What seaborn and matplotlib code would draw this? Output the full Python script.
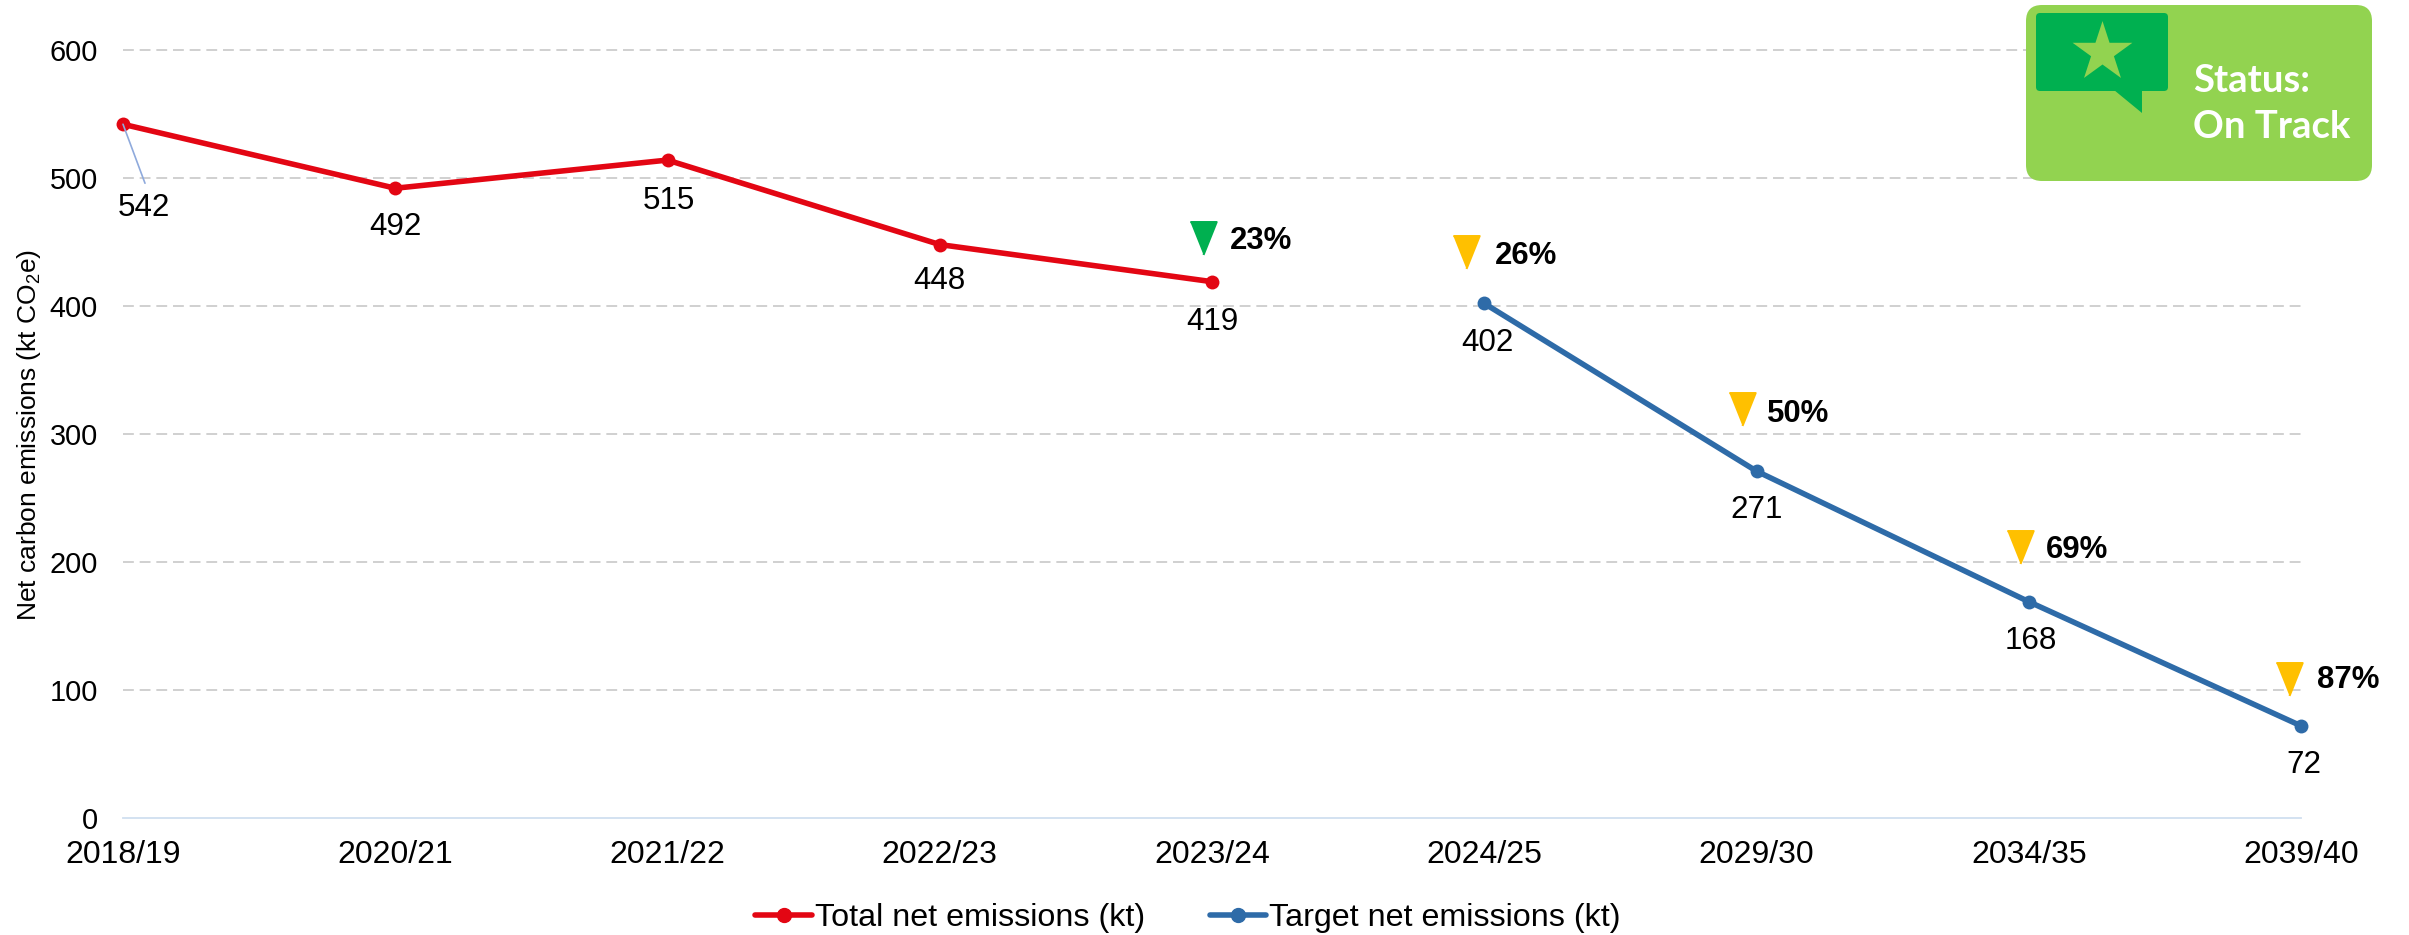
import matplotlib
matplotlib.use('Agg')
import matplotlib.pyplot as plt
import matplotlib.transforms as mtransforms
from matplotlib.lines import Line2D
from matplotlib.markers import MarkerStyle
from matplotlib.patches import FancyBboxPatch, Polygon
import seaborn as sns
import pandas as pd

categories = ["2018/19", "2020/21", "2021/22", "2022/23", "2023/24",
              "2024/25", "2029/30", "2034/35", "2039/40"]
total_years = categories[:5]
total_values = [542, 492, 514, 448, 419]
total_labels = ["542", "492", "515", "448", "419"]
target_years = categories[5:]
target_values = [402, 271, 169, 72]
target_labels = ["402", "271", "168", "72"]
pct_years = ["2023/24", "2024/25", "2029/30", "2034/35", "2039/40"]
pct_labels = ["23%", "26%", "50%", "69%", "87%"]
y_ticks = [0, 100, 200, 300, 400, 500, 600]

RED = "#E30613"
BLUE = "#2E6BA8"
GREEN = "#00B050"
AMBER = "#FFC000"
BADGE = "#92D350"

sns.set_theme(style="white")
plt.rcParams['font.family'] = ['Liberation Sans', 'DejaVu Sans']
plt.rcParams['mathtext.default'] = 'regular'

W, H = 2409, 935
fig = plt.figure(figsize=(W / 100, H / 100), dpi=100)
ax = fig.add_axes([123 / W, (H - 818) / H, 2178 / W, 768 / H])

df = pd.DataFrame({
    "year": total_years + target_years,
    "value": total_values + target_values,
    "series": ["Total net emissions (kt)"] * 5 + ["Target net emissions (kt)"] * 4,
})
sns.lineplot(data=df, x="year", y="value", hue="series", sort=False,
             palette=[RED, BLUE], marker="o", markersize=10, linewidth=4,
             markeredgewidth=0, clip_on=False, legend=False, zorder=3, ax=ax)

ax.set_xlim(0, 8)
ax.set_ylim(0, 600)
ax.set_yticks(y_ticks)
ax.set_xticks(range(len(categories)))
ax.set_xticklabels(categories)
ax.tick_params(axis="y", length=0, labelsize=20.8, labelcolor="black", pad=18)
ax.tick_params(axis="x", length=0, labelsize=23, labelcolor="black", pad=16)
ax.set_xlabel("")
ax.set_ylabel("Net carbon emissions (kt CO$_2$e)", fontsize=19, color="black")
ax.yaxis.set_label_coords((43 - 123) / 2178, (818 - 435) / 768)
ax.grid(False)
for v in y_ticks[1:]:
    ax.axhline(v, color="#C8C8C8", lw=1.2, dashes=(6.5, 3.5), zorder=1, clip_on=False)
for side in ["top", "right", "left"]:
    ax.spines[side].set_visible(False)
ax.spines["bottom"].set_color("#D0DFF0")
ax.spines["bottom"].set_linewidth(1.3)


def px_offset(dx, dy):
    return mtransforms.offset_copy(ax.transData, fig=fig, x=dx, y=-dy, units="dots")


# value labels, pixel offsets from their points
value_lookup = dict(zip(total_years + target_years, total_values + target_values))
label_offsets = [(21, 84), (0, 39), (1, 41), (0, 36), (0, 40),
                 (3, 40), (0, 39), (2, 39), (3, 39)]
for year, text, (dx, dy) in zip(categories, total_labels + target_labels, label_offsets):
    ax.text(categories.index(year), value_lookup[year], text, fontsize=22.6,
            color="black", ha="center", va="center", transform=px_offset(dx, dy),
            zorder=5)

# leader line for the first label
ax.annotate("", xy=(0, total_values[0]), xytext=(22, -59), textcoords="offset pixels",
            arrowprops=dict(arrowstyle="-", color="#8FAADC", lw=1.2, shrinkA=0, shrinkB=0),
            zorder=4)

# reduction markers and labels
tri_colors = [GREEN, AMBER, AMBER, AMBER, AMBER]
tri_offsets = [(-9, -44), (-18, -51), (-15, -62), (-9, -55), (-12, -47)]
pct_offsets = [(18, -41), (11, -47), (10, -57), (17, -52), (16, -46)]
tri_marker = MarkerStyle([(-0.40, 0.5), (0.40, 0.5), (0, -0.5)], joinstyle="round")
for year, text, col, (tx, ty), (lx, ly) in zip(pct_years, pct_labels, tri_colors,
                                               tri_offsets, pct_offsets):
    xi = categories.index(year)
    val = value_lookup[year]
    ax.scatter([xi], [val], marker=tri_marker, s=560, color=col, edgecolor=col, linewidth=1.5,
               clip_on=False, zorder=5, transform=px_offset(tx, ty))
    ax.text(xi, val, text, fontsize=22.4, fontweight="bold", color="black", ha="left",
            va="center", transform=px_offset(lx, ly), zorder=5)

handles = [
    Line2D([], [], color=RED, lw=4, marker="o", markersize=10),
    Line2D([], [], color=BLUE, lw=4, marker="o", markersize=10),
]
fig.legend(handles, df["series"].unique(), loc="center", bbox_to_anchor=(1188 / W, (H - 918) / H),
           ncol=2, frameon=False, fontsize=23.2, handlelength=1.75, handletextpad=0.1,
           columnspacing=2.0, labelcolor="black")

# status badge, drawn in figure pixels
over = fig.add_axes([0, 0, 1, 1], zorder=10)
over.set_xlim(0, W)
over.set_ylim(H, 0)
over.axis("off")
over.add_patch(FancyBboxPatch((2042, 21), 314, 144, boxstyle="round,pad=16,rounding_size=16",
                              fc=BADGE, ec="none"))
over.add_patch(FancyBboxPatch((2040, 17), 124, 70, boxstyle="round,pad=4,rounding_size=4",
                              fc=GREEN, ec="none"))
over.add_patch(Polygon([(2114, 90), (2142, 113), (2142, 90)], closed=True, fc=GREEN, ec="none"))
over.scatter([2102], [52], marker="*", s=2050, color=BADGE, linewidth=0)
over.text(2193, 81, "Status:", fontsize=27.5, fontweight="bold", color="white",
          family="Lato", ha="left", va="center")
over.text(2193, 127, "On Track", fontsize=27.5, fontweight="bold", color="white",
          family="Lato", ha="left", va="center")

fig.savefig("out.png", dpi=100, facecolor="white")
plt.close()
